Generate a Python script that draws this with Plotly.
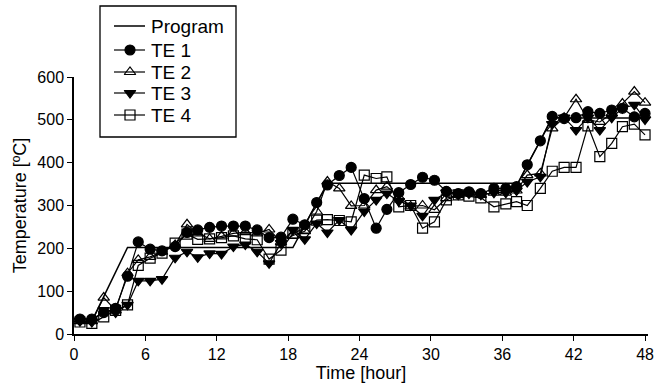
import plotly.graph_objects as go

# ---- data ----
prog_time = [0, 1.5, 4.5, 18.4, 21.3, 37.3, 40.2, 48.25]
prog_temp = [30, 30, 202, 202, 352, 352, 504, 504]

time = [0.5, 1.5, 2.5, 3.5, 4.5, 5.4, 6.4, 7.4, 8.5, 9.5,
        10.4, 11.4, 12.4, 13.4, 14.4, 15.4, 16.4, 17.4, 18.4, 19.4,
        20.4, 21.3, 22.3, 23.3, 24.4, 25.4, 26.3, 27.3, 28.3, 29.3,
        30.3, 31.3, 32.3, 33.2, 34.2, 35.3, 36.3, 37.2, 38.1, 39.2,
        40.2, 41.2, 42.2, 43.2, 44.2, 45.2, 46.1, 47.1, 48.0]

te1 = [35, 35, 50, 60, 135, 215, 198, 194, 204, 237,
       243, 249, 252, 252, 252, 243, 225, 226, 268, 255,
       307, 348, 370, 389, 316, 247, 291, 330, 349, 366,
       359, 333, 328, 332, 328, 340, 340, 344, 395, 451,
       508, 503, 505, 519, 515, 523, 527, 507, 515]

te2 = [30, 30, 85, 55, 142, 173, 180, 192, 208, 256,
       235, 222, 228, 235, 238, 235, 244, 215, 230, 240,
       286, 356, 340, 299, 300, 336, 344, 320, 298, 300,
       290, 317, 325, 328, 325, 330, 330, 335, 371, 375,
       480, 505, 548, 500, 495, 515, 538, 566, 540]

te3 = [30, 28, 56, 50, 68, 124, 124, 128, 178, 192,
       179, 188, 187, 204, 209, 192, 165, 212, 243, 221,
       258, 237, 266, 243, 286, 313, 328, 310, 300, 276,
       313, 330, 325, 328, 325, 330, 330, 335, 355, 367,
       490, 505, 476, 505, 476, 505, 527, 535, 501]

te4 = [28, 25, 40, 55, 68, 160, 177, 189, 212, 233,
       221, 222, 225, 229, 222, 220, 175, 196, 235, 247,
       266, 267, 265, 262, 371, 363, 367, 297, 300, 247,
       262, 313, 325, 322, 318, 297, 304, 309, 300, 340,
       380, 389, 389, 486, 414, 445, 484, 490, 465]

x_ticks = [0, 6, 12, 18, 24, 30, 36, 42, 48]
y_ticks = [0, 100, 200, 300, 400, 500, 600]

legend_labels = ["Program", "TE 1", "TE 2", "TE 3", "TE 4"]
legend_symbols = [None, "circle", "triangle-up-open", "triangle-down", "square-open"]

FONT = "Liberation Sans, Arial, sans-serif"
W, H = 656, 389
ML, MR, MB = 74, 8, 55
PLOT_TOP = 77                     # pixel row of the 600 tick
AREA_H = H - MB                   # plotting area height (t margin = 0)

fig = go.Figure()
fig.add_trace(go.Scatter(x=prog_time, y=prog_temp, mode="lines", name="Program",
                         line=dict(color="black", width=1.5), showlegend=False,
                         cliponaxis=False))
series = [te1, te2, te3, te4]
for name, vals, sym in zip(legend_labels[1:], series, legend_symbols[1:]):
    fig.add_trace(go.Scatter(
        x=time, y=vals, mode="lines+markers", name=name, showlegend=False,
        cliponaxis=False,
        line=dict(color="black", width=1.2),
        marker=dict(symbol=sym, size=10, color="black",
                    line=dict(color="black", width=1.2))))

# ---- legend drawn on an overlay axis measured in pixels ----
row_y = [26, 50, 72, 93, 115]
for lab, sym, ry in zip(legend_labels, legend_symbols, row_y):
    fig.add_trace(go.Scatter(x=[114, 145], y=[ry, ry], mode="lines",
                             xaxis="x2", yaxis="y2", showlegend=False, hoverinfo="skip",
                             line=dict(color="black", width=1.5 if sym is None else 1.2)))
    if sym is not None:
        fig.add_trace(go.Scatter(x=[130], y=[ry], mode="markers",
                                 xaxis="x2", yaxis="y2", showlegend=False, hoverinfo="skip",
                                 marker=dict(symbol=sym, size=10, color="black",
                                             line=dict(color="black", width=1.2))))
    fig.add_annotation(x=149, y=ry, xref="x2", yref="y2", text=lab, showarrow=False,
                       xanchor="left", yanchor="middle",
                       font=dict(size=19, family=FONT, color="black"))
fig.add_shape(type="rect", xref="x2", yref="y2", x0=100, x1=236, y0=6, y1=137,
              line=dict(color="black", width=1.3), fillcolor="white", layer="below")

fig.update_layout(
    width=W, height=H,
    margin=dict(l=ML, r=MR, t=0, b=MB, autoexpand=False),
    paper_bgcolor="white", plot_bgcolor="rgba(0,0,0,0)",
    font=dict(family=FONT, size=16, color="black"),
    showlegend=False,
    xaxis=dict(range=[0, 48.25], tickvals=x_ticks, ticks="outside", ticklen=5,
               tickwidth=1.3, tickcolor="black", showline=True, linecolor="black",
               linewidth=1.5, showgrid=False, zeroline=False, automargin=False,
               ticklabeloverflow="allow",
               tickfont=dict(size=16), anchor="y",
               title=dict(text="Time [hour]", font=dict(size=18), standoff=2)),
    yaxis=dict(range=[0, 600], tickvals=y_ticks, ticks="outside", ticklen=5,
               tickwidth=1.3, tickcolor="black", showline=True, linecolor="black",
               linewidth=1.5, showgrid=False, zeroline=False, automargin=False,
               domain=[0, (AREA_H - PLOT_TOP) / AREA_H], anchor="x",
               tickfont=dict(size=16),
               title=dict(text="Temperature [ºC]", font=dict(size=18), standoff=6)),
    xaxis2=dict(range=[ML, W - MR], domain=[0, 1], anchor="y2", visible=False,
                fixedrange=True, automargin=False),
    yaxis2=dict(range=[AREA_H, 0], domain=[0, 1], anchor="x2", visible=False,
                fixedrange=True, automargin=False),
)

fig.write_html("out.html")
